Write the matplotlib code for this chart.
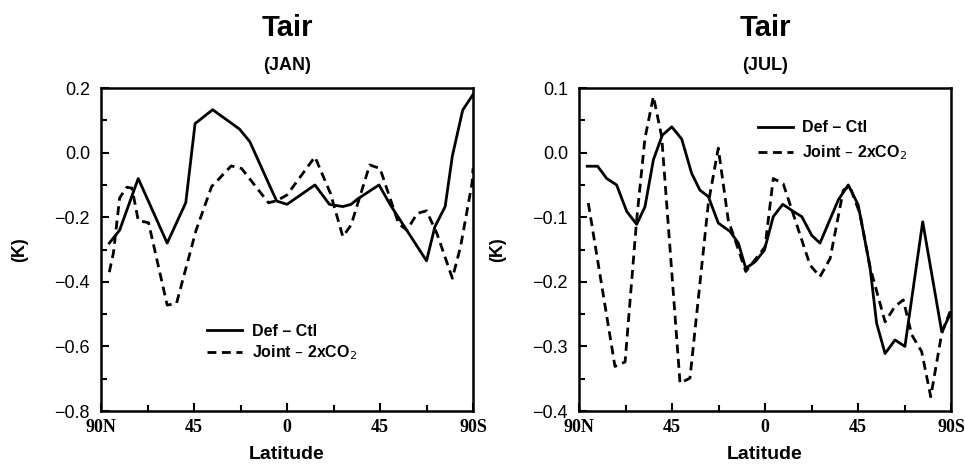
import numpy as np
import matplotlib
matplotlib.use('Agg')
import matplotlib.pyplot as plt
from matplotlib.ticker import MultipleLocator, FuncFormatter

plt.rcParams['font.family'] = ['Liberation Sans', 'DejaVu Sans']

# latitude axis runs from 90N (-90) to 90S (+90)
jan_def_lat = [-86, -81, -72, -58, -49, -44.5, -36, -23, -18, -9, -5, 0, 13.5, 20.5, 27, 31, 34,
               44.5, 50, 67.5, 71.5, 76.5, 80, 85, 90]
jan_def_val = [-0.28, -0.24, -0.08, -0.28, -0.155, 0.09, 0.133, 0.073, 0.034, -0.094, -0.15, -0.16,
               -0.10, -0.16, -0.167, -0.16, -0.144, -0.10, -0.162, -0.335, -0.23, -0.167, -0.01,
               0.132, 0.18]

jan_joint_lat = [-86, -84, -81, -77.5, -75, -72, -67, -58, -53.5, -44, -36.5, -27, -22, -9, -5, 0,
                 13.5, 21, 27, 31, 40, 45, 54, 58, 63, 67.5, 72.5, 80, 84, 89.5, 90]
jan_joint_val = [-0.37, -0.31, -0.14, -0.107, -0.11, -0.21, -0.217, -0.472, -0.467, -0.24, -0.105,
                 -0.041, -0.049, -0.155, -0.149, -0.131, -0.013, -0.126, -0.26, -0.224, -0.038,
                 -0.049, -0.22, -0.24, -0.188, -0.18, -0.25, -0.389, -0.29, -0.095, -0.049]

jul_def_lat = [-86, -81, -76.6, -71.8, -66.9, -62.1, -58.1, -54, -49.7, -45.1, -40.3, -35.5, -31.5,
               -27.4, -22.6, -16.9, -12.9, -9.3, -4.8, -0.3, 4, 8.6, 13.7, 17.8, 22.6, 26.6, 35.5,
               40.3, 45.1, 50.8, 54, 58.1, 62.9, 67.7, 76.3, 85.5, 89.5]
jul_def_val = [-0.021, -0.021, -0.04, -0.05, -0.091, -0.111, -0.084, -0.011, 0.027, 0.04, 0.021,
               -0.032, -0.058, -0.068, -0.109, -0.122, -0.14, -0.179, -0.169, -0.151, -0.099, -0.08,
               -0.091, -0.099, -0.128, -0.14, -0.073, -0.05, -0.081, -0.177, -0.264, -0.311, -0.29,
               -0.30, -0.107, -0.277, -0.251]

jul_joint_lat = [-85.5, -72.6, -67.7, -62.1, -58.1, -54, -50, -41.1, -36.3, -27.4, -22.6, -17.8,
                 -9.3, 0, 4, 8.8, 21.8, 26.6, 31.5, 37.9, 41, 45.9, 50.8, 58.1, 62.9, 66.9, 71,
                 75.8, 80.2, 85.5, 89.8]
jul_joint_val = [-0.078, -0.331, -0.324, -0.104, 0.022, 0.087, 0.025, -0.357, -0.349, -0.078,
                 0.007, -0.104, -0.184, -0.146, -0.04, -0.048, -0.174, -0.192, -0.164, -0.058,
                 -0.052, -0.094, -0.177, -0.262, -0.238, -0.228, -0.282, -0.308, -0.378, -0.28,
                 -0.244]

xtick_pos = [-90, -45, 0, 45, 90]
xtick_labels = ['90N', '45', '0', '45', '90S']

fig = plt.figure(figsize=(9.65, 4.66), dpi=100)
ax1 = fig.add_axes([0.1047, 0.118, 0.3855, 0.693])
ax2 = fig.add_axes([0.600, 0.118, 0.3855, 0.693])

panels = [
    (ax1, 'JAN', jan_def_lat, jan_def_val, jan_joint_lat, jan_joint_val, (-0.8, 0.2), 0.2, 0.1,
     (0.285, 0.27), 20.7),
    (ax2, 'JUL', jul_def_lat, jul_def_val, jul_joint_lat, jul_joint_val, (-0.4, 0.1), 0.1, 0.05,
     (0.48, 0.90), 24),
]

fmt = FuncFormatter(lambda v, pos: ('%.1f' % v).replace('-', '\u2212'))

for ax, month, dl, dv, jl, jv, ylim, major, minor, legpos, legsp in panels:
    ax.plot(dl, dv, color='black', lw=2.0, label='Def \u2013 Ctl')
    ax.plot(jl, jv, color='black', lw=2.0, ls=(0, (3.2, 2.0)), label='Joint \u2013 2xCO$_2$')
    ax.set_xlim(-90, 90)
    ax.set_ylim(*ylim)
    ax.yaxis.set_major_locator(MultipleLocator(major))
    ax.yaxis.set_minor_locator(MultipleLocator(minor))
    ax.yaxis.set_major_formatter(fmt)
    ax.set_xticks(xtick_pos)
    ax.set_xticklabels(xtick_labels, family='Liberation Serif', fontweight='bold', fontsize=14)
    ax.xaxis.set_minor_locator(MultipleLocator(22.5))
    ax.tick_params(which='both', direction='in', top=False, right=False, width=1.5)
    ax.tick_params(which='major', length=6, labelsize=13)
    ax.tick_params(axis='y', which='major', pad=8)
    ax.tick_params(axis='x', which='major', pad=6)
    ax.tick_params(which='minor', length=4)
    for sp in ax.spines.values():
        sp.set_linewidth(1.8)
    ax.set_xlabel('Latitude', fontweight='bold', fontsize=14, labelpad=7)
    ax.set_ylabel('(K)', fontweight='bold', fontsize=13, labelpad=19)
    ax.text(0.5, 1.186, 'Tair', transform=ax.transAxes, ha='center', va='center',
            fontsize=21, fontweight='bold')
    ax.text(0.5, 1.071, '(%s)' % month, transform=ax.transAxes, ha='center', va='center',
            fontsize=13, fontweight='bold')
    leg = ax.legend(loc='upper left', bbox_to_anchor=legpos, frameon=False, fontsize=11.5,
                    handlelength=2.2, handletextpad=0.6, labelspacing=(legsp - 16) / 16,
                    borderaxespad=0, borderpad=0)
    for t in leg.get_texts():
        t.set_fontweight('bold')

fig.savefig('out.png', dpi=100)
